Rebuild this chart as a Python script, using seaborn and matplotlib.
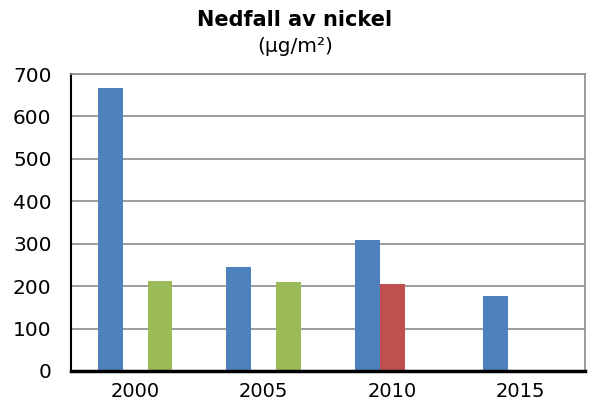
import pandas as pd
import numpy as np
import matplotlib.pyplot as plt
import seaborn as sns

# Data
years = ['2000', '2005', '2010', '2015']
series = ['A', 'B', 'C']
blue = [667, 245, 309, 176]
red = [np.nan, np.nan, 205, np.nan]
green = [212, 210, np.nan, np.nan]
colors = ['#4F81BD', '#C0504D', '#9BBB59']

df = pd.DataFrame({
    'year': years * 3,
    'serie': ['A'] * 4 + ['B'] * 4 + ['C'] * 4,
    'value': blue + red + green,
})

sns.set_style("white")
plt.rcParams['font.family'] = ['DejaVu Sans']
plt.rcParams['text.color'] = 'black'
plt.rcParams['xtick.color'] = 'black'
plt.rcParams['ytick.color'] = 'black'

fig = plt.figure(figsize=(5.9, 4.07), dpi=100)
ax = fig.add_axes([0.1203, 0.0885, 0.8712, 0.7295])

sns.barplot(data=df, x='year', y='value', hue='serie', hue_order=series,
            order=years, palette=colors, width=0.58, dodge=True,
            saturation=1, legend=False, linewidth=0, ax=ax)

ax.set_ylim(0, 700)
ax.set_xlim(-0.5, 3.5)
ax.set_yticks(range(0, 701, 100))
ax.yaxis.grid(True, color='#8c8c8c', linewidth=1.2)
ax.set_axisbelow(True)

# category boundaries as major ticks, labels in the middle
ax.set_xticks(np.arange(-0.5, 4, 1))
ax.set_xticklabels([])
ax.set_xticks(np.arange(0, 4), minor=True)
ax.set_xticklabels(years, minor=True)
ax.tick_params(axis='x', which='major', length=6, width=1.5, direction='out')
ax.tick_params(axis='x', which='minor', length=0, pad=8, labelsize=14)
ax.tick_params(axis='y', length=6, width=1.5, direction='out', labelsize=14.5, pad=8)

for s in ['left', 'bottom']:
    ax.spines[s].set_color('black')
ax.spines['left'].set_linewidth(1.5)
ax.spines['bottom'].set_linewidth(2.5)
for s in ['top', 'right']:
    ax.spines[s].set_color('#8c8c8c')
    ax.spines[s].set_linewidth(1.2)

ax.set_xlabel('')
ax.set_ylabel('')

fig.text(0.5, 0.951, 'Nedfall av nickel', ha='center', va='center',
         fontsize=15, fontweight='bold')
fig.text(0.5, 0.885, '(µg/m²)', ha='center', va='center', fontsize=14.5)

fig.savefig('out.png', dpi=100)
